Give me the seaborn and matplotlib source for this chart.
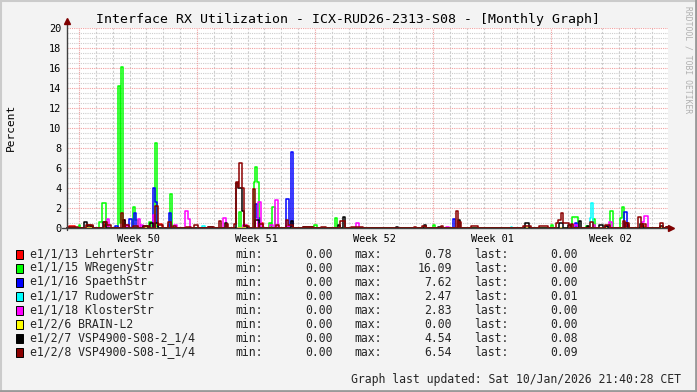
import matplotlib
matplotlib.use("Agg")
import matplotlib.pyplot as plt
import seaborn as sns
import pandas as pd
from matplotlib.patches import Rectangle
from matplotlib.lines import Line2D

sns.set_theme(style="white")
plt.rcParams['font.family'] = ['DejaVu Sans Mono', 'DejaVu Sans']

# ---------------- data ----------------
TITLE = "Interface RX Utilization - ICX-RUD26-2313-S08 - [Monthly Graph]"
Y_LABEL = "Percent"
WATERMARK = "RRDTOOL / TOBI OETIKER"
UPDATED = "Graph last updated: Sat 10/Jan/2026 21:40:28 CET"
WEEK_LABELS = ["Week 50", "Week 51", "Week 52", "Week 01", "Week 02"]
WEEK_STARTS = [0, 7, 14, 21, 28]          # days since Mon 08 Dec 2025 00:00
X_START, X_END = -0.73, 34.93
Y_TICKS = [0, 2, 4, 6, 8, 10, 12, 14, 16, 18, 20]

SERIES_NAMES = ["e1/1/13 LehrterStr", "e1/1/15 WRegenyStr", "e1/1/16 SpaethStr",
                "e1/1/17 RudowerStr", "e1/1/18 KlosterStr", "e1/2/6 BRAIN-L2",
                "e1/2/7 VSP4900-S08-2_1/4", "e1/2/8 VSP4900-S08-1_1/4"]
SERIES_COLORS = ["#FF0000", "#00FF00", "#0000FF", "#00FFFF",
                 "#FF00FF", "#FFFF00", "#000000", "#8B0000"]
MIN_VALUES = [0.00, 0.00, 0.00, 0.00, 0.00, 0.00, 0.00, 0.00]
MAX_VALUES = [0.78, 16.09, 7.62, 2.47, 2.83, 0.00, 4.54, 6.54]
LAST_VALUES = [0.00, 0.00, 0.00, 0.01, 0.00, 0.00, 0.08, 0.09]

# spikes: (start day, end day, percent)
LEHRTER = [(-0.60, -0.25, 0.2), (0.50, 0.70, 0.3), (1.50, 1.70, 0.3), (2.62, 2.74, 0.78),
           (4.70, 4.90, 0.4), (5.30, 5.50, 0.3), (9.80, 9.95, 0.3), (10.75, 10.90, 0.5),
           (12.30, 12.45, 0.2), (32.45, 32.60, 0.3), (33.40, 33.55, 0.2)]
WREGENY = [(0.00, 0.06, 0.3), (1.20, 1.36, 0.6), (1.36, 1.60, 2.5), (2.30, 2.42, 14.2),
           (2.42, 2.49, 0.5), (2.49, 2.61, 16.09), (3.22, 3.34, 2.1), (3.34, 3.48, 0.8),
           (4.17, 4.33, 0.6), (4.53, 4.64, 8.47), (5.40, 5.52, 3.4), (9.47, 9.61, 1.63),
           (10.40, 10.45, 4.6), (10.45, 10.58, 6.1), (10.58, 10.68, 4.6), (10.68, 10.75, 1.0),
           (11.25, 11.37, 0.5), (11.45, 11.61, 2.07), (13.96, 14.10, 0.3), (15.20, 15.32, 1.0),
           (20.98, 21.10, 0.35), (28.00, 28.11, 0.3), (29.24, 29.58, 1.07), (30.07, 30.19, 0.2),
           (30.50, 30.58, 0.9), (31.49, 31.65, 1.67), (32.09, 32.21, 0.97), (32.21, 32.33, 2.07)]
SPAETH = [(2.15, 2.30, 0.2), (2.98, 3.14, 0.87), (3.28, 3.38, 1.47), (3.78, 4.17, 0.15),
          (4.41, 4.53, 3.97), (4.53, 4.60, 2.6), (4.60, 4.66, 0.5), (5.32, 5.44, 1.53),
          (10.42, 10.54, 2.4), (10.54, 10.66, 1.0), (12.28, 12.44, 2.87), (12.57, 12.67, 7.62),
          (22.20, 22.32, 0.87), (29.44, 29.54, 0.5), (31.26, 31.42, 0.2), (32.34, 32.49, 1.57)]
RUDOWER = [(7.30, 7.46, 0.2), (12.44, 12.52, 0.1), (25.62, 25.70, 0.1),
           (30.30, 30.37, 0.97), (30.37, 30.49, 2.47)]
KLOSTER = [(1.64, 1.76, 0.87), (2.79, 2.91, 0.3), (3.48, 3.62, 0.87), (3.68, 3.82, 0.35),
           (4.41, 4.53, 1.3), (5.65, 5.79, 0.35), (6.29, 6.45, 1.7), (6.45, 6.60, 0.87),
           (8.52, 8.72, 1.0), (9.71, 9.90, 0.3), (10.62, 10.78, 2.63), (11.33, 11.49, 0.3),
           (11.64, 11.79, 2.83), (12.38, 12.52, 0.2), (16.43, 16.59, 0.47), (21.77, 21.93, 0.1),
           (29.38, 29.58, 0.3), (30.47, 30.62, 0.35), (31.45, 31.61, 0.57), (32.40, 32.56, 0.35),
           (33.39, 33.53, 0.6), (33.53, 33.73, 1.2)]
BRAIN = []
VSP2 = [(0.31, 0.46, 0.6), (0.46, 0.81, 0.25), (1.44, 1.60, 0.6), (2.59, 2.75, 0.8),
        (3.78, 4.07, 0.2), (4.21, 4.41, 0.5), (4.53, 4.69, 0.5), (7.63, 7.93, 0.15),
        (8.68, 8.80, 0.5), (9.31, 9.40, 4.54), (9.40, 9.67, 4.0), (9.67, 9.80, 1.7),
        (9.80, 9.95, 0.2), (10.46, 10.66, 0.8), (12.57, 12.67, 0.7), (13.27, 13.86, 0.1),
        (15.34, 15.48, 0.3), (15.68, 15.80, 1.07), (18.80, 18.90, 0.1), (20.48, 20.58, 0.3),
        (21.27, 21.47, 0.1), (22.48, 22.60, 0.8), (26.47, 26.67, 0.47), (28.49, 28.69, 0.5),
        (28.99, 29.18, 0.3), (29.64, 29.79, 0.7), (30.15, 30.27, 0.2), (30.86, 31.06, 0.3),
        (31.22, 31.36, 0.2), (32.36, 32.56, 0.5), (33.27, 33.47, 0.4), (34.48, 34.62, 0.2)]
VSP1 = [(-0.67, -0.08, 0.15), (0.42, 0.81, 0.35), (1.50, 1.64, 0.6), (1.64, 1.90, 0.3),
        (2.51, 2.59, 1.47), (2.75, 2.98, 0.3), (3.18, 3.48, 0.2), (3.87, 4.17, 0.2),
        (4.53, 4.66, 2.2), (4.66, 4.96, 0.35), (5.26, 5.46, 0.6), (5.56, 5.75, 0.2),
        (6.35, 6.64, 0.15), (6.84, 7.04, 0.3), (7.63, 8.03, 0.15), (8.29, 8.40, 0.73),
        (8.72, 8.84, 0.4), (9.21, 9.31, 0.45), (9.31, 9.41, 4.63), (9.41, 9.51, 4.1),
        (9.51, 9.67, 6.54), (9.67, 9.80, 3.97), (9.80, 10.10, 0.25), (10.30, 10.42, 3.93),
        (10.70, 10.90, 0.4), (11.68, 11.88, 0.3), (12.28, 12.40, 0.8), (12.40, 12.67, 0.3),
        (13.27, 13.86, 0.12), (14.35, 14.65, 0.1), (15.48, 15.80, 0.7), (16.13, 16.83, 0.1),
        (19.89, 19.99, 0.1), (20.34, 20.58, 0.2), (21.47, 21.61, 0.2), (22.36, 22.48, 1.7),
        (22.56, 22.66, 0.6), (23.25, 23.67, 0.2), (26.32, 26.81, 0.2), (27.28, 27.82, 0.2),
        (28.29, 28.39, 0.47), (28.39, 28.59, 0.8), (28.59, 28.73, 1.47), (28.73, 29.08, 0.55),
        (29.18, 29.32, 0.4), (30.31, 30.47, 0.63), (31.22, 31.49, 0.3), (32.25, 32.40, 0.73),
        (32.44, 32.64, 0.5), (33.14, 33.33, 1.07), (33.39, 33.63, 0.4), (34.48, 34.62, 0.47)]
SPIKES = [LEHRTER, WREGENY, SPAETH, RUDOWER, KLOSTER, BRAIN, VSP2, VSP1]
DATA_END = 34.80


def build_steps(segs, last):
    t, v = [X_START], [0.0]
    prev_end = None
    for s, e, val in segs:
        if prev_end is not None and abs(s - prev_end) > 1e-9:
            t.append(prev_end); v.append(0.0)
        t.append(s); v.append(val)
        prev_end = e
    if prev_end is not None:
        t.append(prev_end); v.append(0.0)
    t.append(DATA_END); v.append(last)
    t.append(X_END); v.append(last)
    return pd.DataFrame({"t": t, "v": v})


# ---------------- figure ----------------
W, H = 697, 392
fig = plt.figure(figsize=(W / 100, H / 100), dpi=100)
fig.patch.set_facecolor("#F3F3F3")


def fx(px):
    return px / W


def fy(py):
    return 1 - py / H


# frame shading
fig.add_artist(Line2D([0, 1], [fy(0.5), fy(0.5)], color="#CBCBCB", lw=1.5, transform=fig.transFigure))
fig.add_artist(Line2D([fx(0.5), fx(0.5)], [0, 1], color="#CBCBCB", lw=1.5, transform=fig.transFigure))
fig.add_artist(Line2D([0, 1], [fy(391), fy(391)], color="#999999", lw=2, transform=fig.transFigure))
fig.add_artist(Line2D([fx(696), fx(696)], [0, 1], color="#999999", lw=2, transform=fig.transFigure))

L, R, T, B = 66.7, 668, 28, 228
ax = fig.add_axes([fx(L), fy(B), fx(R) - fx(L), fy(T) - fy(B)])
ax.set_facecolor("white")
ax.set_xlim(X_START, X_END)
ax.set_ylim(0, 20)
for sp in ax.spines.values():
    sp.set_visible(False)

# grid
for y in [i * 0.5 for i in range(1, 41)]:
    if abs(y % 2) < 1e-9:
        ax.axhline(y, color="#F0A0A0", lw=0.8, ls=(0, (1, 1)), zorder=1)
    else:
        ax.axhline(y, color="#CDCDCD", lw=0.8, ls=(0, (1, 1)), zorder=0.5)
for d in range(0, 35):
    if d in WEEK_STARTS:
        ax.axvline(d, color="#F0A0A0", lw=0.8, ls=(0, (1, 1)), zorder=1)
    else:
        ax.axvline(d, color="#CDCDCD", lw=0.8, ls=(0, (2, 1.5)), zorder=0.5)

# series
for segs, last, col in zip(SPIKES, LAST_VALUES, SERIES_COLORS):
    df = build_steps(segs, last)
    sns.lineplot(data=df, x="t", y="v", estimator=None, sort=False,
                 drawstyle="steps-post", color=col, linewidth=1.1,
                 ax=ax, zorder=3, clip_on=False)

ax.set_xlabel("")
ax.set_ylabel("")
ax.set_xticks([w + 3.5 for w in WEEK_STARTS])
ax.set_xticklabels(WEEK_LABELS, fontsize=7.4, color="black")
ax.set_yticks(Y_TICKS)
ax.set_yticklabels([str(y) for y in Y_TICKS], fontsize=7.4, color="black")
ax.tick_params(axis="both", length=0, pad=4)

# axes with arrows
fig.add_artist(Line2D([fx(L), fx(L)], [fy(B + 2), fy(22)], color="#404040", lw=1, transform=fig.transFigure, zorder=5))
fig.add_artist(Line2D([fx(62), fx(670)], [fy(B), fy(B)], color="#404040", lw=1, transform=fig.transFigure, zorder=5))
fig.add_artist(Line2D([fx(L)], [fy(21)], marker="^", markersize=4.5, color="#7F0000", transform=fig.transFigure, zorder=6))
fig.add_artist(Line2D([fx(671)], [fy(B)], marker=">", markersize=4.5, color="#7F0000", transform=fig.transFigure, zorder=6))

# texts
fig.text(fx(348), fy(19), TITLE, ha="center", va="center", fontsize=9.5, color="black")
fig.text(fx(11), fy(127), Y_LABEL, ha="center", va="center", rotation=90, fontsize=8, color="black")
fig.text(fx(688), fy(6), WATERMARK, ha="center", va="top", rotation=270, fontsize=5.8, color="#B0B0B0")

# legend
row_y = [254, 268, 282, 296, 310, 324, 338, 352]
for i, (name, col) in enumerate(zip(SERIES_NAMES, SERIES_COLORS)):
    yy = row_y[i]
    fig.add_artist(Rectangle((fx(15.5), fy(yy + 4.5)), fx(7), fy(0) - fy(9),
                             facecolor=col, edgecolor="black", lw=0.7, transform=fig.transFigure))
    fig.text(fx(30), fy(yy), name, ha="left", va="center", fontsize=8.3)
    fig.text(fx(235), fy(yy), "min:", ha="left", va="center", fontsize=8.3)
    fig.text(fx(333), fy(yy), f"{MIN_VALUES[i]:.2f}", ha="right", va="center", fontsize=8.3)
    fig.text(fx(354), fy(yy), "max:", ha="left", va="center", fontsize=8.3)
    fig.text(fx(452), fy(yy), f"{MAX_VALUES[i]:.2f}", ha="right", va="center", fontsize=8.3)
    fig.text(fx(474), fy(yy), "last:", ha="left", va="center", fontsize=8.3)
    fig.text(fx(578), fy(yy), f"{LAST_VALUES[i]:.2f}", ha="right", va="center", fontsize=8.3)

fig.text(fx(681), fy(379), UPDATED, ha="right", va="center", fontsize=8.3)

fig.savefig("out.png", dpi=100, facecolor=fig.get_facecolor())
